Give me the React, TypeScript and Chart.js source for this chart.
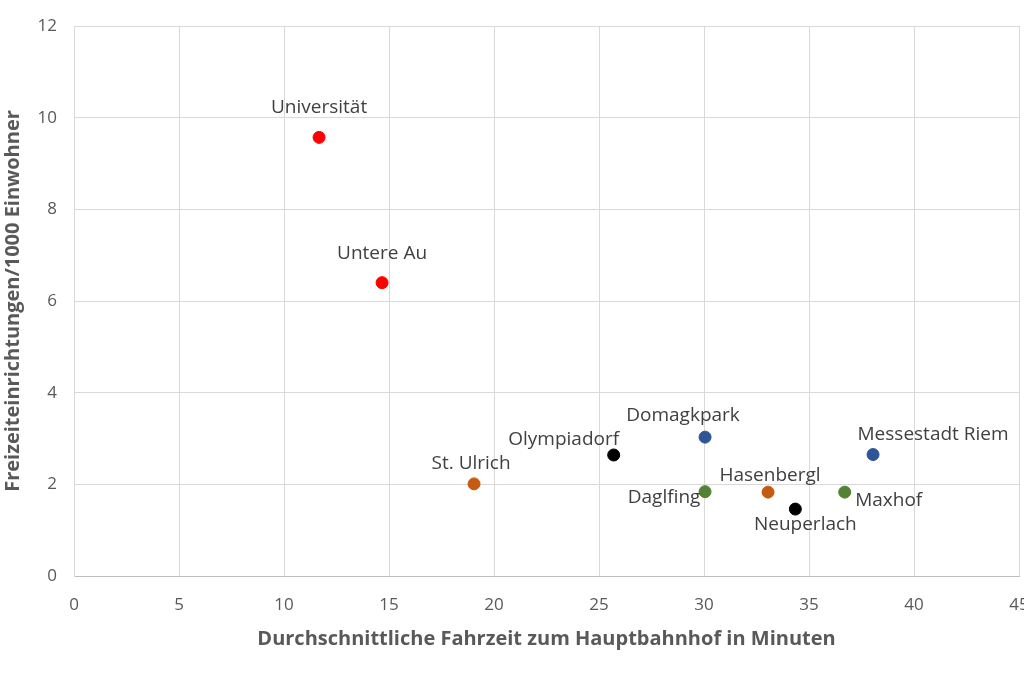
import React, { useEffect, useRef } from "react";
import { Chart, registerables } from "chart.js";

Chart.register(...registerables);

const districts = [
  "Universität",
  "Untere Au",
  "St. Ulrich",
  "Olympiadorf",
  "Domagkpark",
  "Messestadt Riem",
  "Hasenbergl",
  "Daglfing",
  "Neuperlach",
  "Maxhof",
];
const travelMinutes = [11.67, 14.67, 19.05, 25.7, 30.05, 38.05, 33.05, 30.05, 34.35, 36.7];
const facilitiesPer1000 = [9.57, 6.4, 2.01, 2.64, 3.03, 2.65, 1.83, 1.84, 1.46, 1.83];
const pointColors = [
  "#FF0000",
  "#FF0000",
  "#C55A11",
  "#000000",
  "#2F5597",
  "#2F5597",
  "#C55A11",
  "#548235",
  "#000000",
  "#548235",
];
// label offsets relative to the point (style only)
const labelOffsets: [number, number][] = [
  [0, -30],
  [0, -29],
  [-3, -20],
  [-50, -15],
  [-22, -22],
  [60, -20],
  [2, -17],
  [-41, 6],
  [10, 16],
  [44, 8],
];

const xTitle = "Durchschnittliche Fahrzeit zum Hauptbahnhof in Minuten";
const yTitle = "Freizeiteinrichtungen/1000 Einwohner";

const labelPlugin = {
  id: "pointLabels",
  afterDatasetsDraw(chart: any) {
    const ctx = chart.ctx;
    const meta = chart.getDatasetMeta(0);
    ctx.save();
    ctx.font = '19px "Open Sans"';
    ctx.fillStyle = "#404040";
    ctx.textAlign = "center";
    ctx.textBaseline = "middle";
    meta.data.forEach((el: any, i: number) => {
      const [dx, dy] = labelOffsets[i];
      ctx.fillText(districts[i], el.x + dx, el.y + dy);
    });
    ctx.restore();
  },
};

export default function App() {
  const ref = useRef<HTMLCanvasElement>(null);
  useEffect(() => {
    if (!ref.current) return;
    const chart = new Chart(ref.current, {
      type: "scatter",
      data: {
        datasets: [
          {
            data: travelMinutes.map((x, i) => ({ x, y: facilitiesPer1000[i] })),
            pointBackgroundColor: pointColors,
            pointBorderColor: pointColors,
            pointRadius: 6,
            pointHoverRadius: 6,
          },
        ],
      },
      options: {
        animation: false,
        responsive: false,
        layout: { padding: { top: 26, right: 21, bottom: 0, left: 0 } },
        plugins: { legend: { display: false }, tooltip: { enabled: false } },
        scales: {
          x: {
            type: "linear",
            min: 0,
            max: 45,
            ticks: {
              stepSize: 5,
              padding: 19,
              color: "#595959",
              font: { family: "Open Sans", size: 17 },
            },
            grid: { color: "#d9d9d9", drawTicks: false },
            border: { color: "#bfbfbf" },
            title: {
              display: true,
              text: xTitle,
              color: "#595959",
              font: { family: "Open Sans", size: 20, weight: "bold" },
              padding: { top: 0, bottom: 32 },
            },
            afterFit: (s: any) => {
              s.height = 107;
              s.paddingLeft = 0;
              s.paddingRight = 0;
            },
          },
          y: {
            min: 0,
            max: 12,
            ticks: {
              stepSize: 2,
              padding: 17,
              color: "#595959",
              font: { family: "Open Sans", size: 17 },
            },
            grid: { color: "#d9d9d9", drawTicks: false },
            border: { color: "#d9d9d9" },
            title: {
              display: true,
              text: yTitle,
              color: "#595959",
              font: { family: "Open Sans", size: 20, weight: "bold" },
              padding: { top: 1, bottom: 0 },
            },
            afterFit: (s: any) => {
              s.width = 74;
              s.paddingTop = 0;
              s.paddingBottom = 0;
            },
          },
        },
      },
      plugins: [labelPlugin],
    });
    return () => chart.destroy();
  }, []);
  return (
    <div style={{ position: "absolute", left: 0, top: 0, width: 1024, height: 683, overflow: "hidden", background: "#fff" }}>
      <canvas ref={ref} width={1040} height={683} style={{ display: "block" }} />
    </div>
  );
}
